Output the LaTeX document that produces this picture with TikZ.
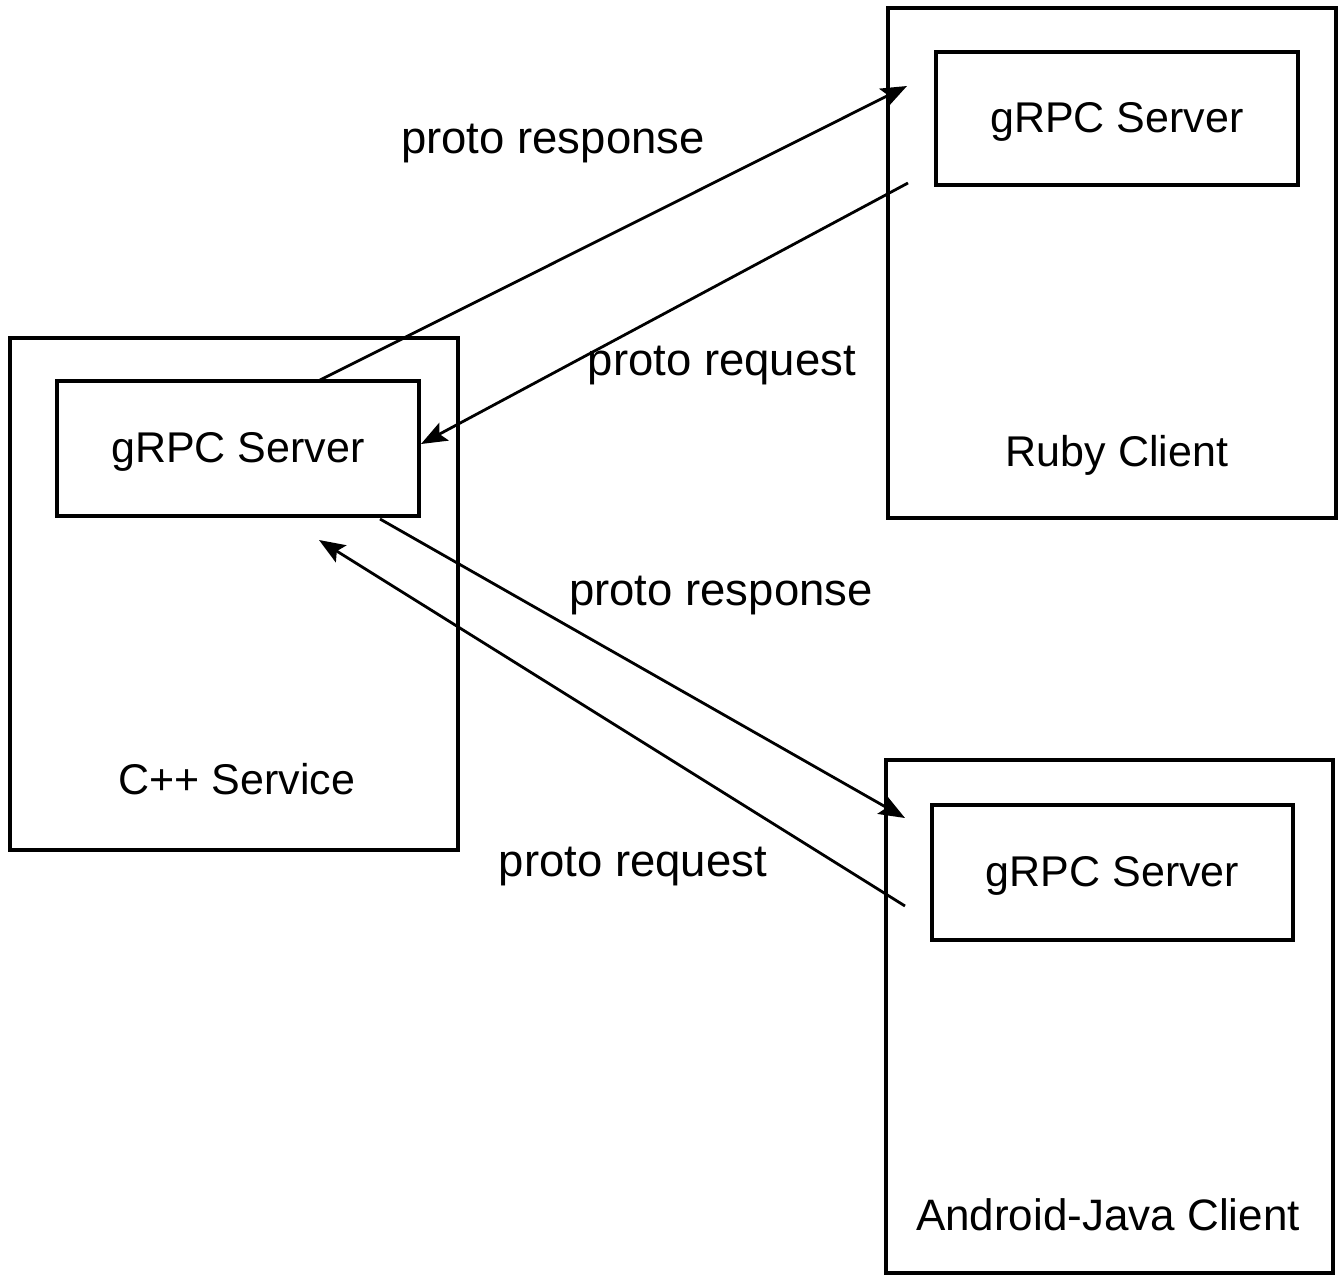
\documentclass[tikz,border=0pt]{standalone}
\usepackage{fontspec}
\setmainfont{Liberation Sans}
\usetikzlibrary{arrows.meta}
\begin{document}
\begin{tikzpicture}[x=1pt,y=-1pt,
  box/.style={draw,line width=3.5pt,inner sep=0pt},
  lbl/.style={font=\fontsize{43}{50}\selectfont,inner sep=0pt},
  plbl/.style={font=\fontsize{45.5}{52}\selectfont,inner sep=0pt},
  conn/.style={line width=2.8pt,-{Stealth[length=26pt,width=20pt,inset=5pt]}}]
\useasboundingbox (0,0) rectangle (1344,1286);
% C++ service
\node[box,minimum width=448pt,minimum height=512pt] (cpp) at (234,594) {};
\node[box,minimum width=362pt,minimum height=135pt] (cppg) at (238,448.5) {};
\node[lbl] at ([yshift=-3pt]cppg.center) {gRPC Server};
\node[lbl] (cpplbl) at (237,779) {C++ Service};
% Ruby client
\node[box,minimum width=448pt,minimum height=510pt] (ruby) at (1112,263) {};
\node[box,minimum width=362pt,minimum height=133pt] (rubyg) at (1117,118.5) {};
\node[lbl] at ([yshift=-3pt]rubyg.center) {gRPC Server};
\node[lbl] (rubylbl) at (1117,455) {Ruby Client};
% Android client
\node[box,minimum width=447pt,minimum height=513pt] (andr) at (1109.5,1016.5) {};
\node[box,minimum width=361pt,minimum height=135pt] (andrg) at (1112.5,872.5) {};
\node[lbl] at ([yshift=-3pt]andrg.center) {gRPC Server};
\node[lbl,font=\fontsize{44}{50}\selectfont] (andrlbl) at (1108,1215) {Android-Java Client};
% connector end points
\coordinate (c1s) at (320,380);
\coordinate (c1e) at (907,86);
\coordinate (c2s) at (908,183);
\coordinate (c2e) at (421,444);
\coordinate (c3s) at (380,519);
\coordinate (c3e) at (905,818);
\coordinate (c4s) at (905,906);
\coordinate (c4e) at (319,540);
\draw[conn] (c1s) -- (c1e);
\draw[conn] (c2s) -- (c2e);
\draw[conn] (c3s) -- (c3e);
\draw[conn] (c4s) -- (c4e);
% labels
\node[plbl] (l1) at (553,144) {proto response};
\node[plbl] (l2) at (722,366) {proto request};
\node[plbl] (l3) at (721,596) {proto response};
\node[plbl] (l4) at (633,866) {proto request};
\end{tikzpicture}
\end{document}
